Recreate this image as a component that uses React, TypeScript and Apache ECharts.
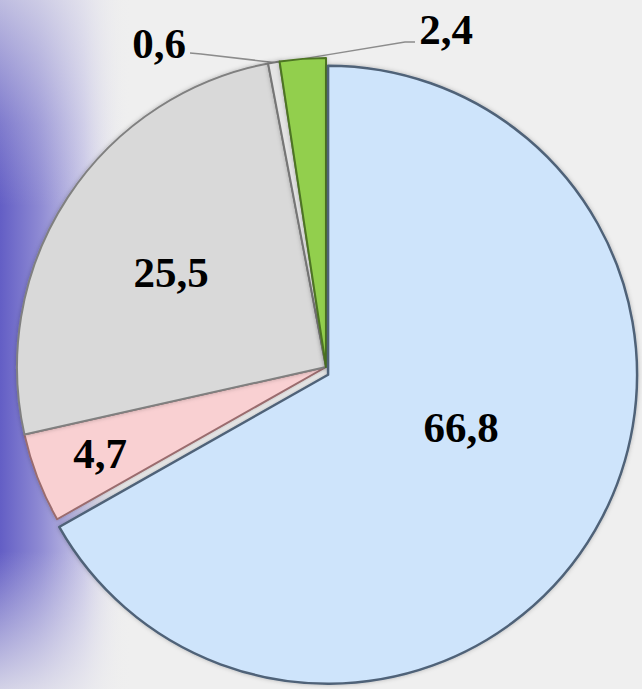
import React, { useEffect, useRef } from "react";
import * as echarts from "echarts";

const categories = ["Сегмент 1", "Сегмент 2", "Сегмент 3", "Сегмент 4", "Сегмент 5"];
const values = [66.8, 4.7, 25.5, 0.6, 2.4];
const fillColors = ["#cee4fb", "#f9d0d2", "#d9d9d9", "#e4e4e4", "#92cf4d"];
const edgeColors = ["#4f6278", "#9a6c6e", "#808080", "#767676", "#4d7424"];
const labelPositions = [
  [461, 427],
  [100, 453],
  [171, 272],
  [159, 43],
  [446, 29],
];
const outsideLabels = [false, false, false, true, true];
const explodedIndex = 0;
const explodeOffset = 8;
const explodeAngleDeg = -75;

const CENTER = [326, 367];
const RADIUS = 309;

export default function App() {
  const ref = useRef<HTMLDivElement>(null);
  useEffect(() => {
    document.body.style.margin = "0";
    const chart = echarts.init(ref.current!, null, { renderer: "svg" });
    const rad = (explodeAngleDeg * Math.PI) / 180;
    const offCenter = [
      CENTER[0] + explodeOffset * Math.cos(rad),
      CENTER[1] - explodeOffset * Math.sin(rad),
    ];

    const makeData = (visible: (i: number) => boolean) =>
      values.map((v, i) => {
        const show = visible(i);
        return {
          name: categories[i],
          value: v,
          itemStyle: show
            ? {
                color: fillColors[i],
                borderColor: edgeColors[i],
                borderWidth: i === explodedIndex ? 2.5 : 2,
                shadowColor: "rgba(0,0,0,0.25)",
                shadowBlur: 4,
              }
            : { color: "rgba(0,0,0,0)", borderWidth: 0 },
          emphasis: { disabled: true },
          label: {
            show,
            position: outsideLabels[i] ? ("outside" as const) : ("inside" as const),
          },
          labelLine: { show: show && outsideLabels[i] },
        };
      });

    const baseSeries = {
      type: "pie",
      z: 2,
      radius: RADIUS,
      startAngle: 90,
      clockwise: true,
      avoidLabelOverlap: false,
      silent: true,
      label: {
        show: true,
        fontFamily: "Liberation Serif",
        fontWeight: "bold",
        fontSize: 43,
        color: "#000",
        formatter: (p: any) => String(p.value).replace(".", ","),
      },
      labelLine: {
        show: false,
        length: 20,
        length2: 20,
        lineStyle: { color: "#8c8c8c", width: 1.5 },
      },
      labelLayout: (p: any) => {
        const pos = labelPositions[p.dataIndex];
        const res: any = {
          x: pos[0],
          y: pos[1],
          align: "center",
          verticalAlign: "middle",
        };
        if (outsideLabels[p.dataIndex] && p.labelLinePoints) {
          const start = p.labelLinePoints[0];
          if (p.dataIndex === 3) {
            res.labelLinePoints = [
              start,
              [pos[0] + 42, pos[1] + 11],
              [pos[0] + 31, pos[1] + 10],
            ];
          } else {
            res.labelLinePoints = [
              start,
              [pos[0] - 41, pos[1] + 13],
              [pos[0] - 31, pos[1] + 13],
            ];
          }
        }
        return res;
      },
    };

    chart.setOption({
      animation: false,
      backgroundColor: "#efefef",
      graphic: [
        {
          type: "rect",
          z: 0,
          shape: { x: 0, y: 0, width: 130, height: 689 },
          style: {
            fill: new echarts.graphic.LinearGradient(0, 0, 1, 0, [
              { offset: 0, color: "#635ec5" },
              { offset: 0.3, color: "#8d89d3" },
              { offset: 0.65, color: "#c9c7e7" },
              { offset: 1, color: "rgba(239,239,239,0)" },
            ]),
          },
        },
        {
          type: "rect",
          z: 1,
          shape: { x: 0, y: 0, width: 130, height: 689 },
          style: {
            fill: new echarts.graphic.LinearGradient(0, 0, 0, 1, [
              { offset: 0, color: "rgba(239,239,239,0.65)" },
              { offset: 0.18, color: "rgba(239,239,239,0.2)" },
              { offset: 0.3, color: "rgba(239,239,239,0)" },
              { offset: 0.8, color: "rgba(239,239,239,0)" },
              { offset: 1, color: "rgba(239,239,239,0.8)" },
            ]),
          },
        },
      ],
      series: [
        {
          ...baseSeries,
          name: "rest",
          center: CENTER,
          data: makeData((i) => i !== explodedIndex),
        },
        {
          ...baseSeries,
          name: "exploded",
          center: offCenter,
          data: makeData((i) => i === explodedIndex),
        },
      ],
    });
    return () => chart.dispose();
  }, []);
  return (
    <div
      ref={ref}
      style={{ position: "absolute", left: 0, top: 0, width: 642, height: 689 }}
    />
  );
}
